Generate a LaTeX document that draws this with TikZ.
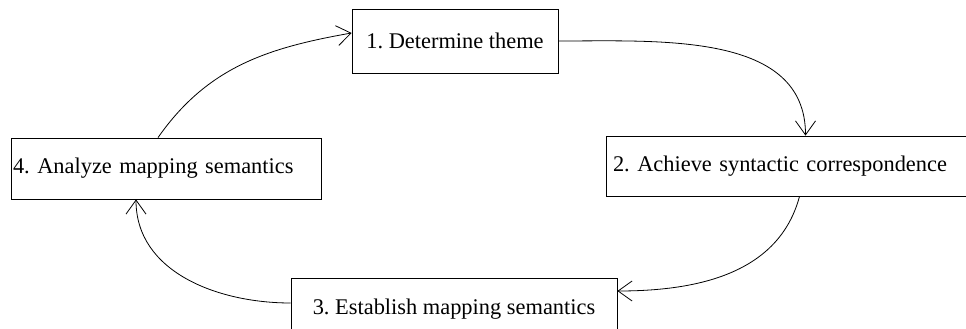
\documentclass[tikz,border=0pt]{standalone}
\usepackage{fontspec}
\setmainfont{Liberation Serif}
\usepackage{tikz}
\usetikzlibrary{arrows.meta}

\begin{document}
\frenchspacing
\begin{tikzpicture}[x=1pt,y=1pt,
  phase/.style={draw, line width=0.8pt,
    font=\fontsize{22.4}{27}\selectfont},
  flow/.style={line width=0.8pt, -{Straight Barb[length=14pt,width=20pt]}}]
\useasboundingbox (0,0) rectangle (966,329);
\clip (0,0) rectangle (966,329);
% the four steps
\node[phase, minimum width=206pt, minimum height=64pt] (theme) at (455,288) {1. Determine theme};
\node[phase, align=left, inner xsep=7pt, text width=355pt, minimum height=60pt] (syntax) at (790.5,163) {2. Achieve syntactic correspondence};
\node[phase, minimum width=326pt, minimum height=62pt] (establish) at (454,20) {3. Establish mapping semantics};
\node[phase, align=left, inner xsep=2pt, text width=306pt, minimum height=61pt] (analyze) at (166,160.5) {4. Analyze mapping semantics};
% the cycle
\draw[flow] ([xshift=-8pt]analyze.north) to[out=55, in=190] ([yshift=8pt]theme.west);
\draw[flow] (theme.east) to[out=0, in=90] ([xshift=15pt]syntax.north);
\draw[flow] ([xshift=9pt]syntax.south) to[out=-105, in=0] ([yshift=18pt]establish.east);
\draw[flow] ([yshift=6pt]establish.west) to[out=180, in=-90] ([xshift=-30pt]analyze.south);
\end{tikzpicture}
\end{document}
